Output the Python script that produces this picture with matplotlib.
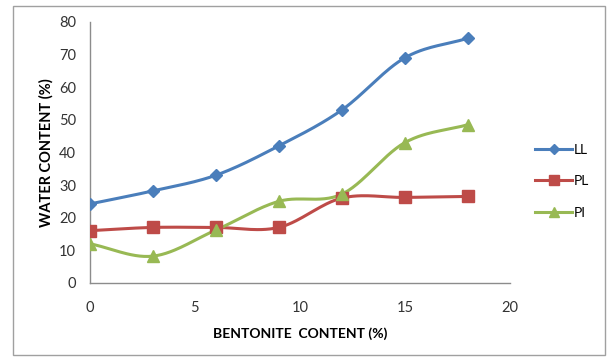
import numpy as np
import matplotlib
matplotlib.use("Agg")
import matplotlib.pyplot as plt
from matplotlib.patches import Rectangle

# Data
bentonite = [0, 3, 6, 9, 12, 15, 18]
ll_vals   = [24.2, 28.2, 33.0, 42.0, 53.0, 69.0, 75.0]
pl_vals   = [16.0, 17.0, 17.0, 17.0, 26.0, 26.2, 26.5]
pi_vals   = [12.0, 8.2, 16.2, 25.0, 27.2, 43.0, 48.5]
series_names = ["LL", "PL", "PI"]

plt.rcParams['font.family'] = ['Lato', 'DejaVu Sans']


def smooth(xs, ys, n=30):
    # Catmull-Rom curve through the points, like Excel's smoothed line
    xs = np.asarray(xs, float)
    ys = np.asarray(ys, float)
    px = np.concatenate([[2 * xs[0] - xs[1]], xs, [2 * xs[-1] - xs[-2]]])
    py = np.concatenate([[2 * ys[0] - ys[1]], ys, [2 * ys[-1] - ys[-2]]])
    t = np.linspace(0, 1, n)
    outx, outy = [], []
    for i in range(1, len(px) - 2):
        for p, out in ((px, outx), (py, outy)):
            p0, p1, p2, p3 = p[i - 1], p[i], p[i + 1], p[i + 2]
            out.extend(0.5 * ((2 * p1) + (-p0 + p2) * t
                              + (2 * p0 - 5 * p1 + 4 * p2 - p3) * t ** 2
                              + (-p0 + 3 * p1 - 3 * p2 + p3) * t ** 3))
    return np.array(outx), np.array(outy)


fig = plt.figure(figsize=(6.07, 3.59), dpi=100, facecolor="white")
fig.patches.append(Rectangle((0.021, 0.012), 0.975, 0.972, transform=fig.transFigure,
                             fill=False, edgecolor="#a0a0a0", linewidth=1.0))

ax = fig.add_axes([0.148, 0.212, 0.692, 0.727])

styles = [
    (ll_vals, "#4a7ebb", "D", 6.5),
    (pl_vals, "#be4b48", "s", 8.5),
    (pi_vals, "#98b954", "^", 9),
]
for name, (vals, col, mk, ms) in zip(series_names, styles):
    sx, sy = smooth(bentonite, vals)
    ax.plot(sx, sy, color=col, linewidth=2.2, zorder=2)
    ax.plot(bentonite, vals, linestyle="none", marker=mk, markersize=ms,
            color=col, zorder=3)
    ax.plot([], [], color=col, linewidth=2.2, marker=mk, markersize=ms * 0.8,
            label=name)

ax.set_xlim(0, 20)
ax.set_ylim(0, 80)
ax.set_xticks([0, 5, 10, 15, 20])
ax.set_yticks(range(0, 81, 10))
ax.tick_params(length=0, labelsize=10.5, colors="#333333")
ax.tick_params(axis="x", pad=13)
ax.tick_params(axis="y", pad=10)
for s in ["top", "right"]:
    ax.spines[s].set_visible(False)
for s in ["left", "bottom"]:
    ax.spines[s].set_color("#8c8c8c")
    ax.spines[s].set_linewidth(1.0)

ax.set_xlabel("BENTONITE  CONTENT (%)", fontsize=10, fontweight="bold", labelpad=9)
ax.set_ylabel("WATER CONTENT (%)", fontsize=10.5, fontweight="bold", labelpad=4)

ax.legend(loc="center left", bbox_to_anchor=(1.03, 0.39), frameon=False,
          fontsize=10, handlelength=2.7, handletextpad=0.1, labelspacing=1.4)

fig.savefig("out.png", dpi=100, facecolor="white")
